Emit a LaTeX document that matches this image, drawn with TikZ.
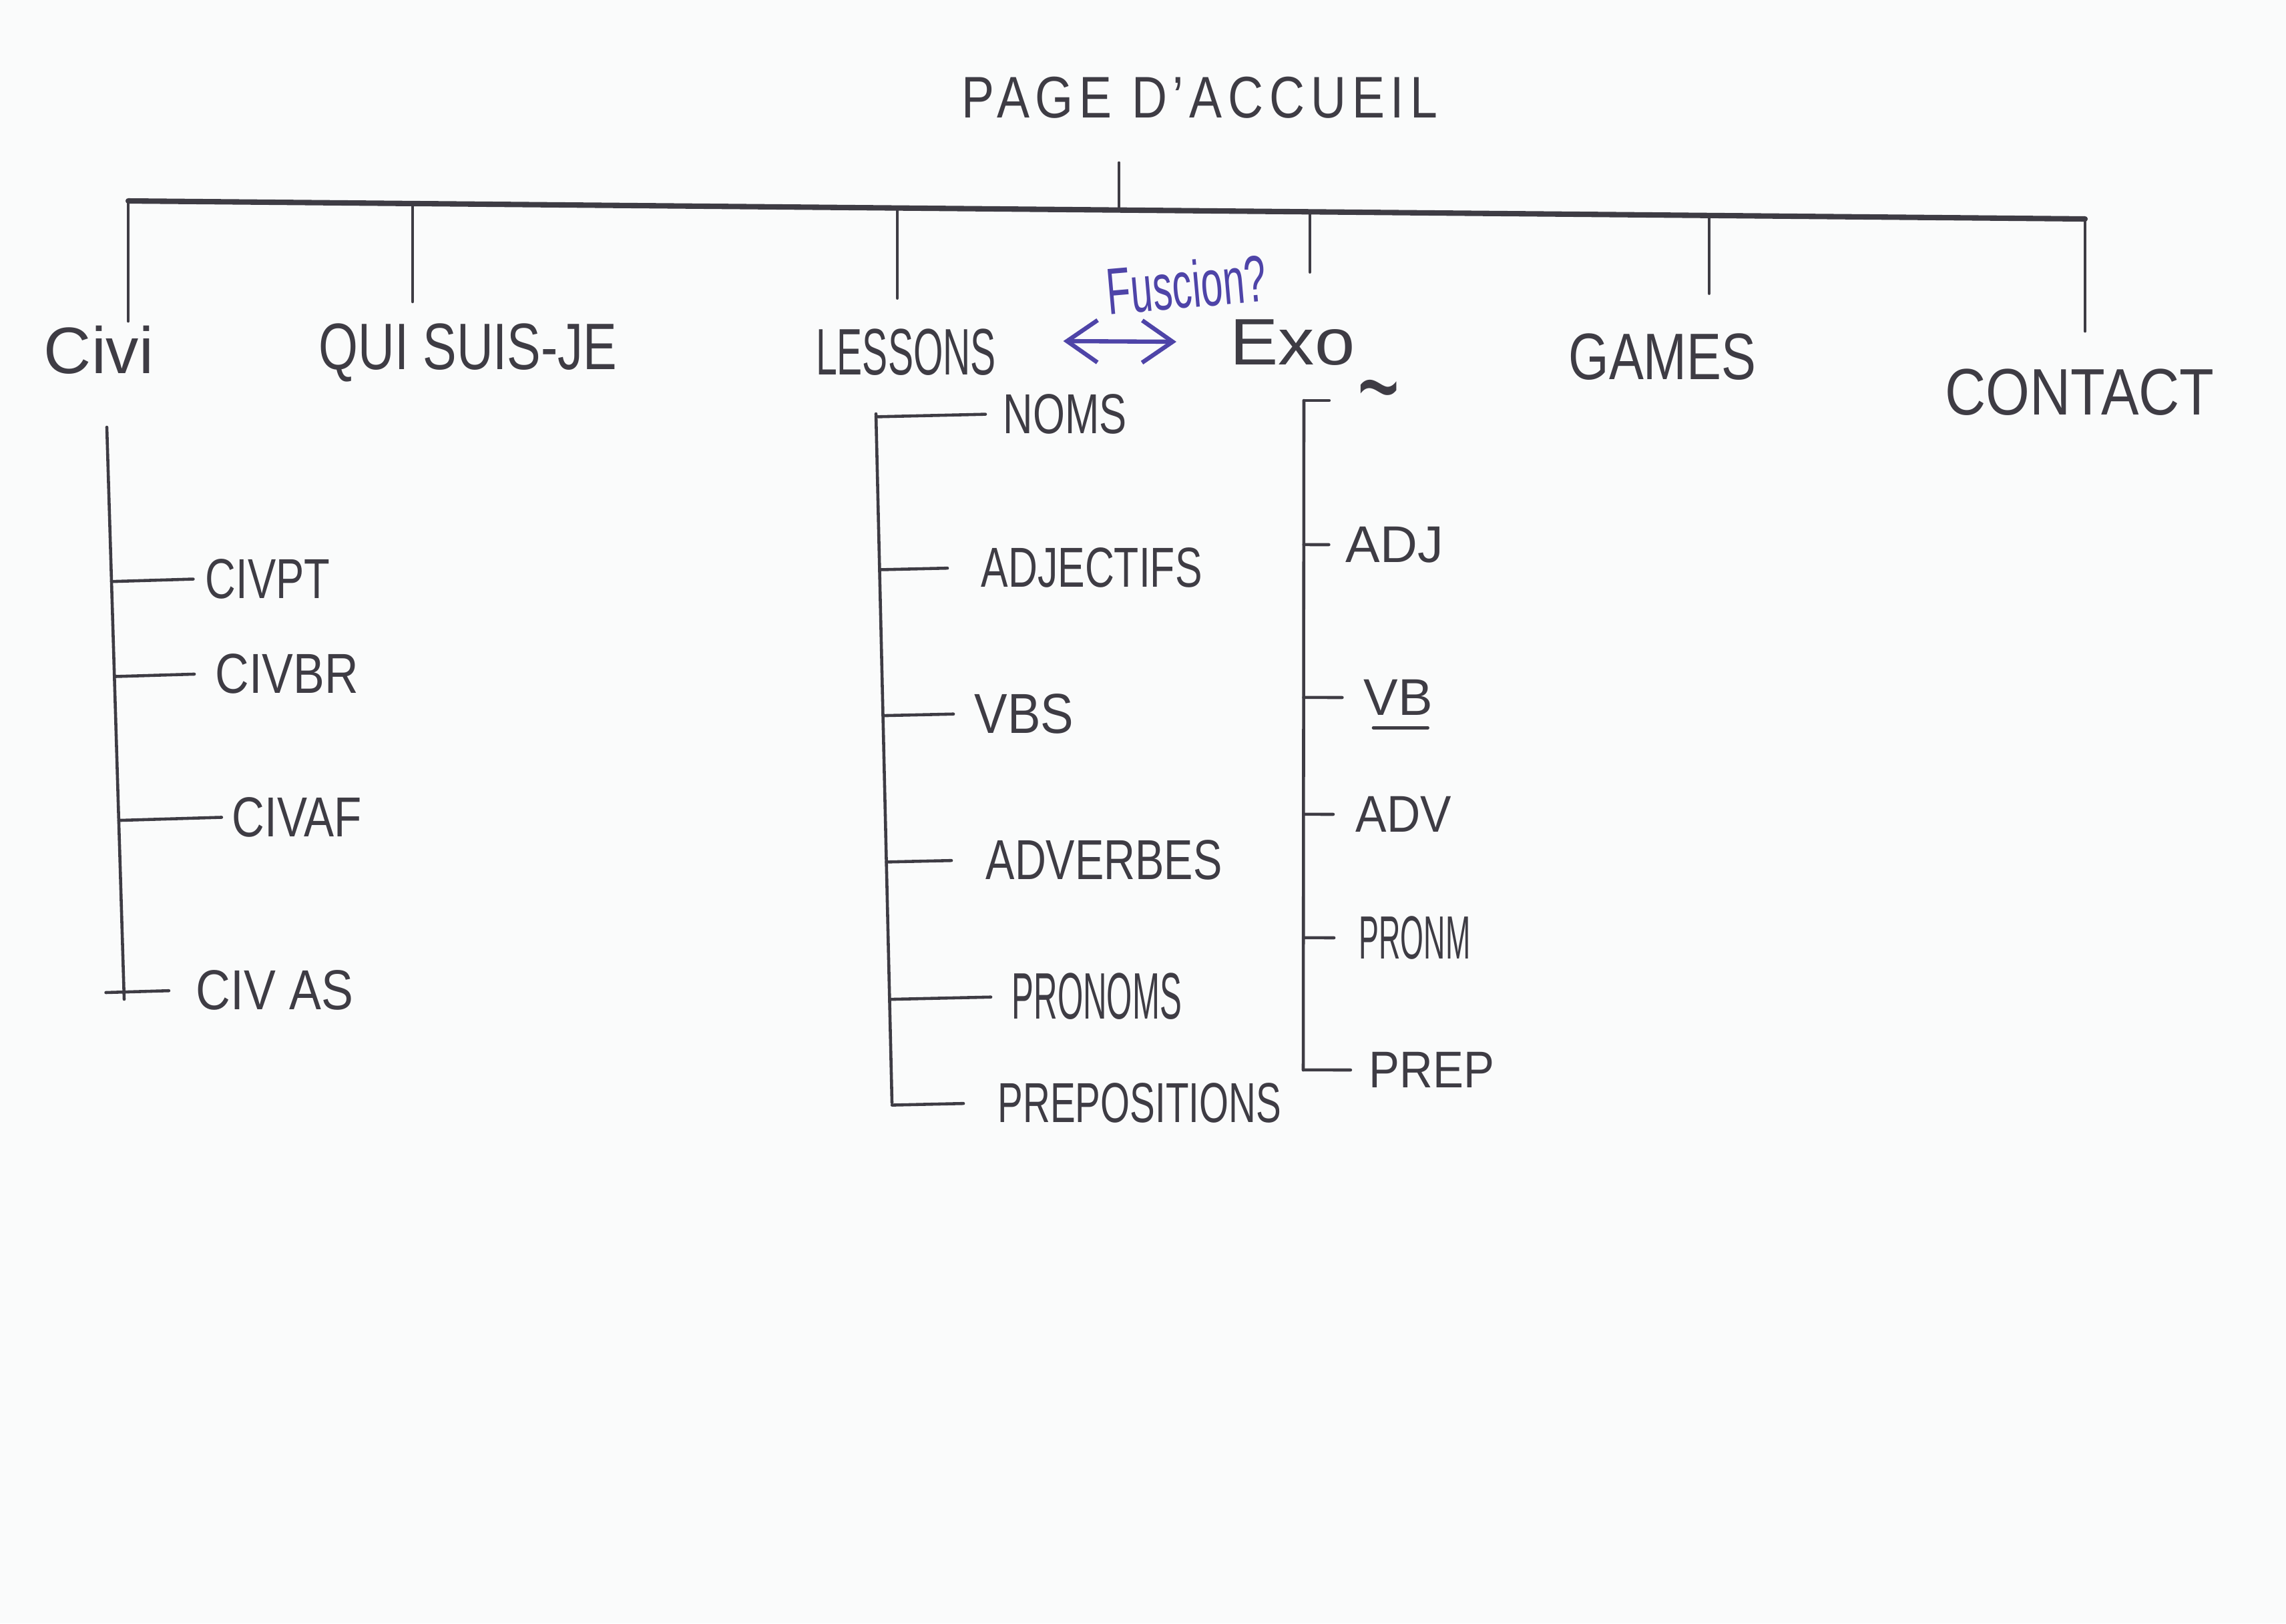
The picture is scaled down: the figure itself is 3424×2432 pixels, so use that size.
\documentclass[tikz,border=0pt]{standalone}
\usepackage{fontspec}
\usepackage{graphicx}
\setmainfont{Liberation Sans}
\usetikzlibrary{arrows.meta,calc}
\definecolor{paper}{RGB}{250,251,251}
\definecolor{ink}{RGB}{62,60,68}
\definecolor{bluepen}{RGB}{78,68,168}
% squeeze a label horizontally, like narrow hand lettering
\newcommand{\hsq}[2]{\scalebox{#1}[1]{#2}}

\begin{document}
\begin{tikzpicture}[x=0.01cm,y=-0.01cm,
  trunk/.style={draw=ink,line width=2.3pt,line cap=round},
  twig/.style={draw=ink,line width=1.3pt,line cap=round},
  gap/.style={shorten >=#1},
  lbl/.style={text=ink,inner sep=0pt},
  toplbl/.style={lbl,font=\fontsize{28}{30}\selectfont},
  sublbl/.style={lbl,font=\fontsize{24}{26}\selectfont,anchor=west},
  exolbl/.style={lbl,font=\fontsize{22}{24}\selectfont,anchor=west},
  fuse/.style={draw=bluepen,line width=1.8pt,line cap=round,
    {Straight Barb[length=13pt,width=18pt]}-{Straight Barb[length=13pt,width=18pt]}},
]
\useasboundingbox (0,0) rectangle (3424,2432);
\fill[paper] (0,0) rectangle (3424,2432);

% ---- home page and first level ----
\node[lbl,font=\fontsize{25}{28}\selectfont] (title) at (1797,146)
  {\hsq{0.835}{\addfontfeature{LetterSpace=12}PAGE D’ACCUEIL}};

\node[toplbl] (civi)    at (148,524)  {Civi};
\node[toplbl] (qui)     at (701,528)  {\hsq{0.77}{QUI SUIS-JE}};
\node[toplbl] (lessons) at (1357,528) {\hsq{0.58}{LESSONS}};
\node[toplbl] (exo)     at (1936,513) {\hsq{1.1}{Exo}};
\node[toplbl] (games)   at (2490,535) {\hsq{0.79}{GAMES}};
\node[toplbl] (contact) at (3115,588) {\hsq{0.86}{CONTACT}};

\node[text=bluepen,inner sep=0pt,font=\fontsize{28}{30}\selectfont,rotate=5]
  (fuscion) at (1777,426) {\hsq{0.6}{Fuscion?}};

% main bar and its joints
\coordinate (bar-l) at (192,301);
\coordinate (bar-r) at (3123,328);
\coordinate (j-civi)    at (192,301);
\coordinate (j-qui)     at (618,305);
\coordinate (j-les)     at (1344,312);
\coordinate (j-root)    at (1676,315);
\coordinate (j-exo)     at (1962,317);
\coordinate (j-games)   at (2560,323);
\coordinate (j-contact) at (3123,328);

\draw[trunk] (bar-l) -- (bar-r);
\draw[twig,shorten <=18.8pt] (title.south -| j-root) -- (j-root);
\draw[twig,gap=1.7pt] (j-civi)    -- (j-civi |- civi.north);
\draw[twig,gap=9pt]   (j-qui)     -- (j-qui |- qui.north);
\draw[twig,gap=13pt]  (j-les)     -- (j-les |- lessons.north);
\draw[twig,gap=20pt]  (j-exo)     -- (j-exo |- exo.north);
\draw[twig,gap=17pt]  (j-games)   -- (j-games |- games.north);
\draw[twig,gap=16pt]  (j-contact) -- (j-contact |- contact.north);

% merge question between lessons and exercises
\draw[fuse] ($(lessons.east)+(100,-17)$) -- ($(exo.west)+(-80,-1)$);

% ---- Civi branch ----
\node[sublbl] (civpt) at (307,867)  {\hsq{0.75}{CIVPT}};
\node[sublbl] (civbr) at (322,1009) {\hsq{0.83}{CIVBR}};
\node[sublbl] (civaf) at (347,1224) {\hsq{0.8}{CIVAF}};
\node[sublbl] (civas) at (293,1483) {\hsq{0.85}{CIV AS}};

\coordinate (cs-top) at (160,640);
\coordinate (cs-bot) at (186,1497);
\draw[twig] (cs-top) -- (cs-bot);
\draw[twig,gap=5pt]    ($(cs-top)!(civpt.west)!(cs-bot)$) -- (civpt.west);
\draw[twig,gap=8.8pt]  ($(cs-top)!(civbr.west)!(cs-bot)$) -- (civbr.west);
\draw[twig,gap=4.3pt]  ($(cs-top)!(civaf.west)!(cs-bot)$) -- (civaf.west);
\draw[twig,gap=11.4pt,shorten <=-7.7pt] ($(cs-top)!(civas.west)!(cs-bot)$) -- (civas.west);

% ---- Lessons branch ----
\node[sublbl] (noms)         at (1502,620)  {\hsq{0.73}{NOMS}};
\node[sublbl] (adjectifs)    at (1469,850)  {\hsq{0.72}{ADJECTIFS}};
\node[sublbl] (vbs)          at (1459,1069) {\hsq{0.88}{VBS}};
\node[sublbl] (adverbes)     at (1476,1288) {\hsq{0.77}{ADVERBES}};
\node[sublbl,font=\fontsize{28}{30}\selectfont] (pronoms) at (1515,1493) {\hsq{0.5}{PRONOMS}};
\node[sublbl] (prepositions) at (1494,1652) {\hsq{0.67}{PREPOSITIONS}};

\coordinate (ls-top) at (1312,620);
\coordinate (ls-bot) at (1336,1652);
\draw[twig] (ls-top) -- (ls-bot);
\draw[twig,gap=7.4pt]  ($(ls-top)!(noms.west)!(ls-bot)$) -- (noms.west);
\draw[twig,gap=14.2pt] ($(ls-top)!(adjectifs.west)!(ls-bot)$) -- (adjectifs.west);
\draw[twig,gap=8.8pt]  ($(ls-top)!(vbs.west)!(ls-bot)$) -- (vbs.west);
\draw[twig,gap=14.5pt] ($(ls-top)!(adverbes.west)!(ls-bot)$) -- (adverbes.west);
\draw[twig,gap=8.8pt]  ($(ls-top)!(pronoms.west)!(ls-bot)$) -- (pronoms.west);
\draw[twig,gap=14.5pt] ($(ls-top)!(prepositions.west)!(ls-bot)$) -- (prepositions.west);

% ---- Exo branch ----
\node[exolbl] (tilde) at (2033,606)  {\scalebox{1.4}[2.4]{\textasciitilde}};
\node[exolbl] (adj)   at (2015,816)  {ADJ};
\node[exolbl] (vb)    at (2042,1045) {VB};
\node[exolbl] (adv)   at (2030,1220) {\hsq{0.9}{ADV}};
\node[exolbl,font=\fontsize{26}{28}\selectfont] (pronm) at (2035,1405) {\hsq{0.49}{PRONM}};
\node[exolbl] (prep)  at (2050,1603) {\hsq{0.89}{PREP}};
\draw[twig] ($(vb.south west)+(15,18)$) -- ($(vb.south east)+(-8,18)$);

\coordinate (es-top) at (1953,600);
\coordinate (es-bot) at (1952,1603);
\draw[twig] (es-top) -- (es-bot);
\draw[twig,gap=12pt]   (es-top) -- (es-top -| tilde.west);
\draw[twig,gap=7pt]    ($(es-top)!(adj.west)!(es-bot)$) -- (adj.west);
\draw[twig,gap=9pt]    ($(es-top)!(vb.west)!(es-bot)$) -- (vb.west);
\draw[twig,gap=9.4pt]  ($(es-top)!(adv.west)!(es-bot)$) -- (adv.west);
\draw[twig,gap=10.5pt] ($(es-top)!(pronm.west)!(es-bot)$) -- (pronm.west);
\draw[twig,gap=7.7pt]  ($(es-top)!(prep.west)!(es-bot)$) -- (prep.west);
\end{tikzpicture}
\end{document}
